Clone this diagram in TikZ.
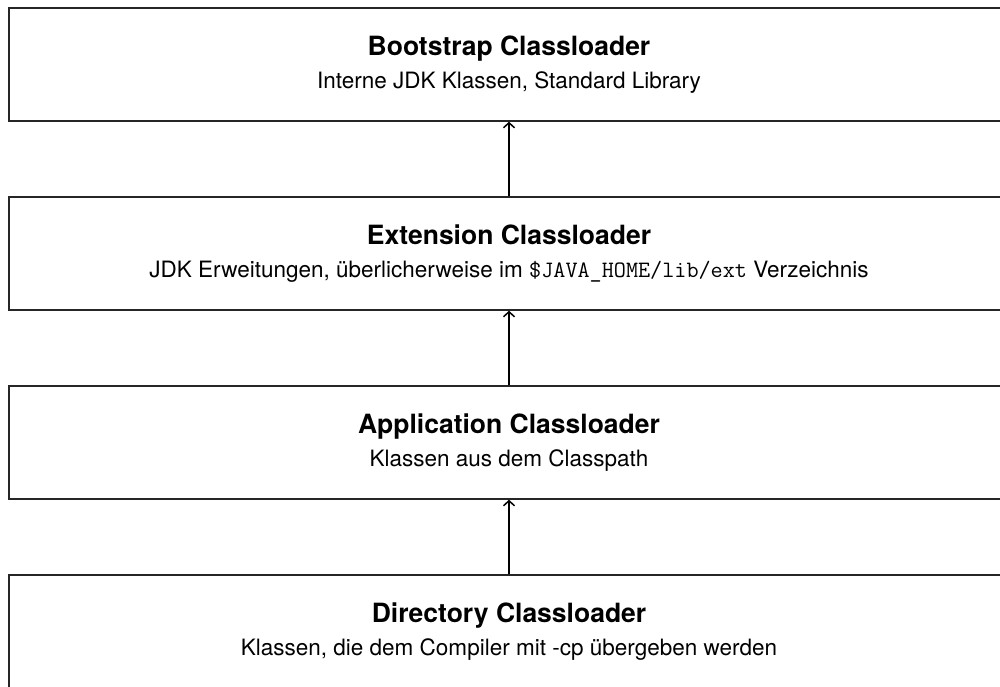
\documentclass[tikz,border=0pt]{standalone}
\usepackage{fontspec}
\setmainfont{TeX Gyre Heros}
\usetikzlibrary{arrows.meta}
\newcommand\pathcode[1]{{\fontsize{23.5}{28}\selectfont\ttfamily #1}}
\tikzset{
  loaderbox/.style={draw=black!85, line width=1.5pt, rectangle, minimum width=1000pt, minimum height=113pt, inner sep=0pt},
  titletext/.style={anchor=base, inner sep=0pt, font=\fontsize{26.5}{31}\selectfont\bfseries},
  subtext/.style={anchor=base, inner sep=0pt, font=\fontsize{22.5}{26}\selectfont},
  uparrow/.style={line width=2pt, -{Straight Barb[length=5pt,width=11pt,line width=1.5pt]}}
}
\begin{document}
\begin{tikzpicture}[x=1pt,y=-1pt]
\useasboundingbox (0,0) rectangle (1000,686);
\node[loaderbox] (b1) at (509,64.5) {};
\node[loaderbox] (b2) at (509,253.5) {};
\node[loaderbox] (b3) at (509,442.5) {};
\node[loaderbox] (b4) at (509,631.5) {};
\node[titletext] (t1) at ([yshift=9pt]b1.center) {Bootstrap Classloader};
\node[subtext] (s1) at ([yshift=-24pt]b1.center) {Interne JDK Klassen, Standard Library};
\node[titletext] (t2) at ([yshift=9pt]b2.center) {Extension Classloader};
\node[subtext] (s2) at ([yshift=-24pt]b2.center) {JDK Erweitungen, überlicherweise im \pathcode{\$JAVA\_HOME/lib/ext} Verzeichnis};
\node[titletext] (t3) at ([yshift=9pt]b3.center) {Application Classloader};
\node[subtext] (s3) at ([yshift=-24pt]b3.center) {Klassen aus dem Classpath};
\node[titletext] (t4) at ([yshift=9pt]b4.center) {Directory Classloader};
\node[subtext] (s4) at ([yshift=-24pt]b4.center) {Klassen, die dem Compiler mit -cp übergeben werden};
\draw[uparrow] (b2.north) -- (b1.south);
\draw[uparrow] (b3.north) -- (b2.south);
\draw[uparrow] (b4.north) -- (b3.south);
\end{tikzpicture}
\end{document}
